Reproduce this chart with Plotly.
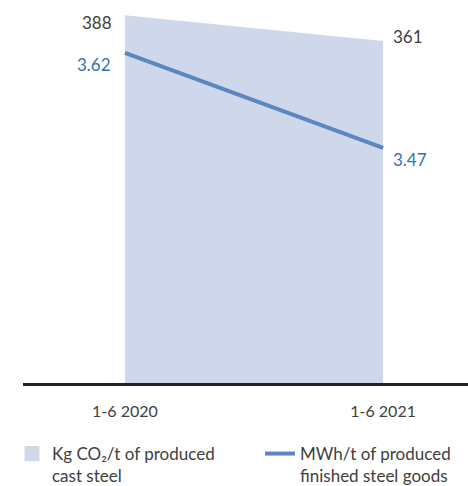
import plotly.graph_objects as go

# Data
periods = ["1-6 2020", "1-6 2021"]
co2_kg_per_t = [388, 361]
mwh_per_t = [3.62, 3.47]
co2_labels = ["388", "361"]
mwh_labels = ["3.62", "3.47"]

AREA_COLOR = "#cfd8ea"
LINE_COLOR = "#5b86be"
LABEL_BLUE = "#2e74b5"
TEXT_GRAY = "#404040"
FONT = "Lato, 'Open Sans', sans-serif"

fig = go.Figure()

# area (primary axis)
fig.add_trace(go.Scatter(
    x=periods, y=co2_kg_per_t, mode="lines", fill="tozeroy",
    fillcolor=AREA_COLOR, line=dict(width=0, color=AREA_COLOR),
    showlegend=False, hoverinfo="skip",
))
# legend proxy for the area
fig.add_trace(go.Scatter(
    x=[None], y=[None], mode="markers",
    marker=dict(symbol="square", size=15, color=AREA_COLOR),
    name="Kg CO₂/t of produced<br>cast steel", legendwidth=203,
))
# line (secondary axis)
fig.add_trace(go.Scatter(
    x=periods, y=mwh_per_t, mode="lines", yaxis="y2",
    line=dict(color=LINE_COLOR, width=4),
    name="MWh/t of produced<br>finished steel goods", legendwidth=150,
))

# value labels
co2_offsets = [(-11, -7, "right"), (8, 4, "left")]
for p, v, lab, (dx, dy, anc) in zip(periods, co2_kg_per_t, co2_labels, co2_offsets):
    fig.add_annotation(x=p, y=v, text=lab, showarrow=False, xanchor=anc, yanchor="middle",
                       xshift=dx, yshift=dy, font=dict(size=17, color=TEXT_GRAY, family=FONT))
mwh_offsets = [(-12, -12, "right"), (8, -12, "left")]
for p, v, lab, (dx, dy, anc) in zip(periods, mwh_per_t, mwh_labels, mwh_offsets):
    fig.add_annotation(x=p, y=v, yref="y2", text=lab, showarrow=False, xanchor=anc, yanchor="middle",
                       xshift=dx, yshift=dy, font=dict(size=17, color=LABEL_BLUE, family=FONT))

fig.update_layout(
    width=468, height=486,
    margin=dict(l=23, r=0, t=10, b=102.5, autoexpand=False),
    plot_bgcolor="white", paper_bgcolor="white",
    font=dict(family=FONT, size=16, color=TEXT_GRAY),
    xaxis=dict(type="category", range=[-0.395, 1.329], showgrid=False, zeroline=False,
               showline=True, linecolor="#222222", linewidth=2.5, ticks="",
               ticklabelstandoff=12, tickfont=dict(size=16, color=TEXT_GRAY)),
    yaxis=dict(range=[0, 393.6], visible=False, showgrid=False, zeroline=False),
    yaxis2=dict(range=[3.098, 3.688], overlaying="y", side="right", visible=False,
                showgrid=False, zeroline=False),
    legend=dict(orientation="h", xref="container", yref="container",
                x=12 / 468, xanchor="left", y=1 - 436 / 486, yanchor="top",
                valign="top", font=dict(size=17, color=TEXT_GRAY), tracegroupgap=0),
    showlegend=True,
)

# drop the default page margin so the figure sits at the window's corner
fig.write_html("out.html", config={"displayModeBar": False},
               post_script="document.body.style.margin='0';")
